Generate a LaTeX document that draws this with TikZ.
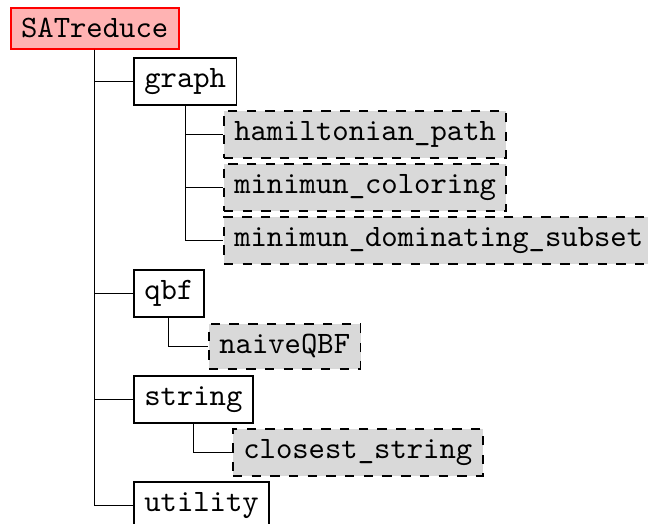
\documentclass[tikz,border=0pt]{standalone}
\usepackage{tikz}
\usepackage{xcolor}
\usetikzlibrary{positioning}
\definecolor{rootred}{HTML}{FF0000}
\definecolor{rootfill}{HTML}{FFB3B3}
\definecolor{leafgray}{HTML}{D9D9D9}

\begin{document}
\begin{tikzpicture}[
  rootdir/.style={rectangle, draw=rootred, fill=rootfill, semithick, anchor=west, font=\ttfamily},
  dir/.style={rectangle, draw=black, fill=white, semithick, anchor=west, font=\ttfamily},
  leaf/.style={rectangle, draw=black, fill=leafgray, semithick, dashed, anchor=west, font=\ttfamily},
  link/.style={draw=black, line width=0.4pt}
]
  \useasboundingbox (0,0) rectangle (7.31,-5.91);

  % Root
  \node[rootdir] (satreduce) at (0.11, -0.32) {SATreduce};

  % Folders
  \node[dir] (graph) at (1.50, -0.918) {graph};
  \node[dir] (qbf) at (1.50, -3.31) {qbf};
  \node[dir] (string) at (1.50, -4.506) {string};
  \node[dir] (utility) at (1.50, -5.702) {utility};

  % Modules of graph
  \node[leaf] (hampath) at (2.515, -1.516) {hamiltonian\_path};
  \node[leaf] (mincolor) at (2.515, -2.114) {minimun\_coloring};
  \node[leaf] (mindom) at (2.515, -2.712) {minimun\_dominating\_subset};

  % Modules of qbf and string
  \node[leaf] (naiveqbf) at (2.346, -3.908) {naiveQBF};
  \node[leaf] (closest) at (2.617, -5.104) {closest\_string};

  % Links
  \draw[link] (satreduce.south) |- (graph.west);
  \draw[link] (satreduce.south) |- (qbf.west);
  \draw[link] (satreduce.south) |- (string.west);
  \draw[link] (satreduce.south) |- (utility.west);
  \draw[link] (graph.south) |- (hampath.west);
  \draw[link] (graph.south) |- (mincolor.west);
  \draw[link] (graph.south) |- (mindom.west);
  \draw[link] (qbf.south) |- (naiveqbf.west);
  \draw[link] (string.south) |- (closest.west);
\end{tikzpicture}
\end{document}
